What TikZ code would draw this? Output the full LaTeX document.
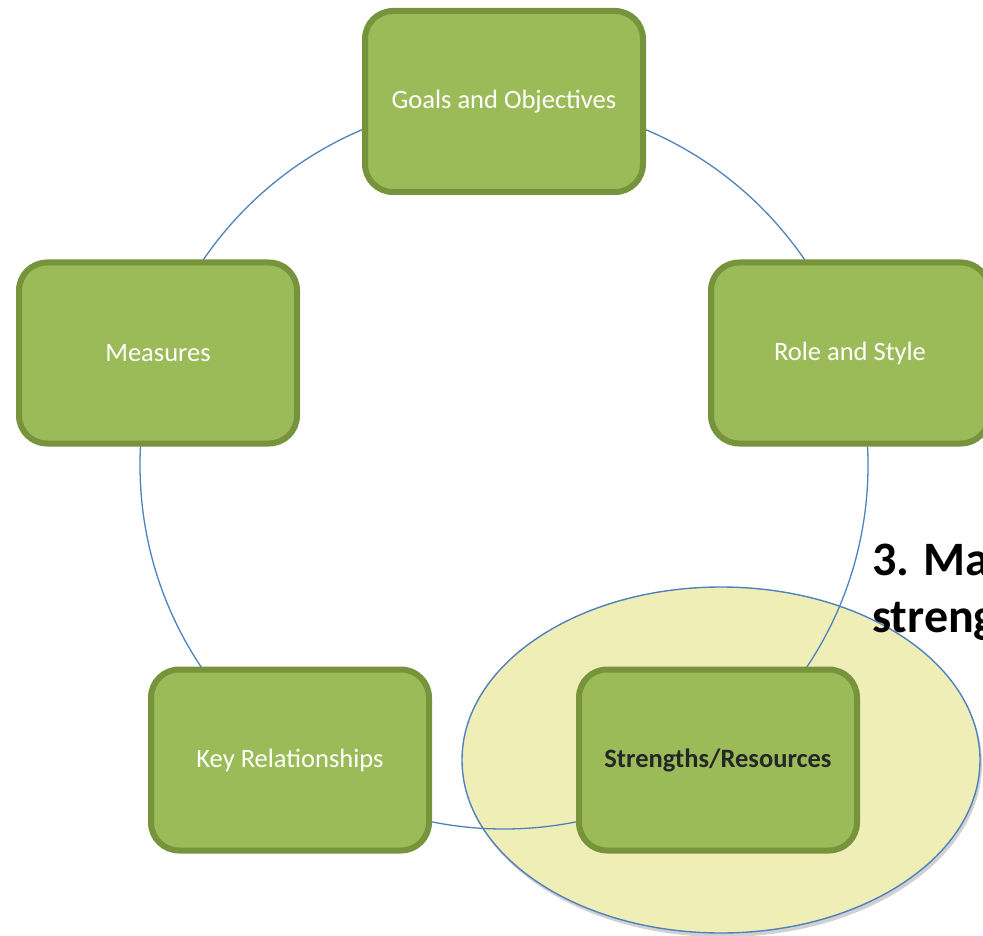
\documentclass[tikz,border=0pt]{standalone}
\usepackage{fontspec}
\setmainfont{Carlito}
\usetikzlibrary{shapes.geometric}
\definecolor{boxfill}{HTML}{9BBB59}
\definecolor{boxline}{HTML}{77933C}
\definecolor{ringblue}{HTML}{4F81BD}
\definecolor{focusfill}{HTML}{F0EEB7}
\definecolor{darktext}{HTML}{262626}
\tikzset{
  stagebox/.style={draw=boxline, line width=6pt, fill=boxfill, rounded corners=28pt,
    minimum width=278pt, minimum height=181pt, inner sep=0pt,
    text=white, font=\fontsize{26.5}{30}\selectfont},
  ringline/.style={draw=ringblue, line width=1.3pt},
  focus/.style={draw=ringblue, line width=1.4pt, fill=focusfill},
  heading/.style={font=\fontsize{48}{58}\selectfont\bfseries, text=black, anchor=base west, inner sep=0pt}
}
\begin{document}
\begin{tikzpicture}[x=1pt,y=-1pt]
  \useasboundingbox (0,0) rectangle (983,936);
  \clip (0,0) rectangle (983,936);
  % highlight behind the current stage
  \fill[black!18] (723,764) ellipse [x radius=259pt, y radius=173pt];
  \node[focus, ellipse, minimum width=518pt, minimum height=346pt, inner sep=0pt] (focusarea) at (721,760) {};
  % heading text
  \node[heading] (head1) at (872,575) {3. Ma};
  \node[heading] (head2) at (872,632) {streng};
  % cycle ring
  \coordinate (hub) at (504,465);
  \draw[ringline] (hub) circle (364pt);
  % stages
  \node[stagebox] (goals) at (504,101.5) {Goals and Objectives};
  \node[stagebox] (role) at (850,353) {Role and Style};
  \node[stagebox, text=darktext, font=\fontsize{26.5}{30}\selectfont\bfseries] (strengths) at (718,760) {Strengths/Resources};
  \node[stagebox] (keyrel) at (290,760) {Key Relationships};
  \node[stagebox] (measures) at (158,353) {Measures};
\end{tikzpicture}
\end{document}
